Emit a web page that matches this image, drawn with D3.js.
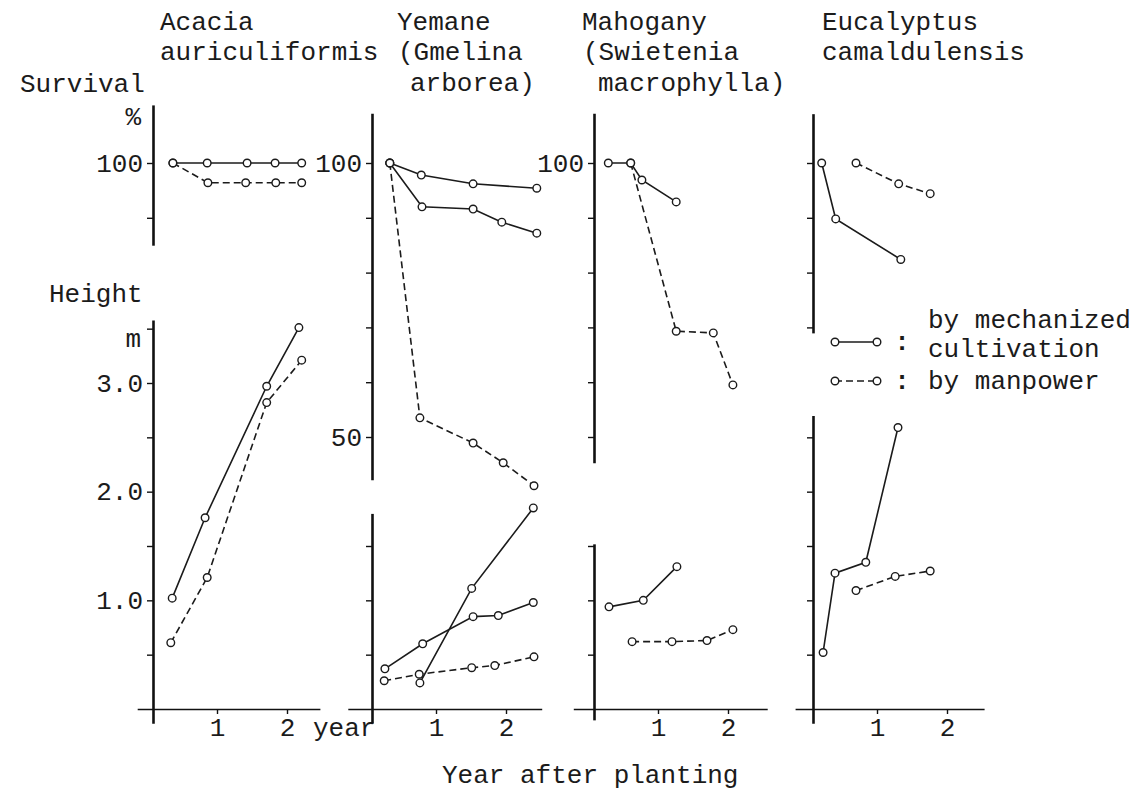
<!DOCTYPE html>
<html>
<head>
<meta charset="utf-8">
<script src="https://cdn.jsdelivr.net/npm/d3@7"></script>
<style>
  body { margin: 0; background: #fff; }
  text { font-family: "Liberation Mono", "DejaVu Sans Mono", monospace; fill: #1b1b1b; }
</style>
</head>
<body>
<script>
// survival (%) and height (m) after planting
// each point = [years after planting, value]

// Acacia auriculiformis
var acaciaSurvMech = [[0.37,100],[0.86,100],[1.43,100],[1.83,100],[2.21,100]];
var acaciaSurvMan  = [[0.37,100],[0.87,96.4],[1.41,96.4],[1.84,96.4],[2.21,96.4]];
var acaciaHtMech   = [[0.36,1.02],[0.83,1.76],[1.71,2.97],[2.17,3.51]];
var acaciaHtMan    = [[0.34,0.61],[0.86,1.21],[1.71,2.82],[2.21,3.21]];

// Yemane (Gmelina arborea)
var yemaneSurvMech1 = [[0.34,100],[0.79,97.8],[1.53,96.2],[2.44,95.4]];
var yemaneSurvMech2 = [[0.34,100],[0.80,92.0],[1.53,91.6],[1.94,89.2],[2.44,87.2]];
var yemaneSurvMan   = [[0.34,100],[0.77,53.5],[1.53,48.9],[1.96,45.3],[2.40,41.1]];
var yemaneHtMech1   = [[0.77,0.24],[1.51,1.11],[2.39,1.85]];
var yemaneHtMech2   = [[0.27,0.37],[0.81,0.60],[1.53,0.85],[1.89,0.86],[2.39,0.98]];
var yemaneHtMan     = [[0.26,0.26],[0.76,0.32],[1.51,0.38],[1.84,0.40],[2.40,0.48]];

// Mahogany (Swietenia macrophylla)
var mahoganySurvMech = [[0.29,100],[0.61,100],[0.77,96.9],[1.26,92.9]];
var mahoganySurvMan  = [[0.61,100],[1.26,69.3],[1.79,69.0],[2.07,59.5]];
var mahoganyHtMech   = [[0.30,0.94],[0.79,1.00],[1.27,1.31]];
var mahoganyHtMan    = [[0.63,0.62],[1.20,0.62],[1.70,0.63],[2.07,0.73]];

// Eucalyptus camaldulensis
var eucalyptusSurvMech = [[0.21,100],[0.41,89.8],[1.34,82.4]];
var eucalyptusSurvMan  = [[0.70,100],[1.31,96.2],[1.76,94.4]];
var eucalyptusHtMech   = [[0.23,0.52],[0.40,1.25],[0.84,1.35],[1.30,2.59]];
var eucalyptusHtMan    = [[0.70,1.09],[1.26,1.22],[1.76,1.27]];

var titles = [
  ['Acacia', 'auriculiformis'],
  ['Yemane', '(Gmelina', 'arborea)'],
  ['Mahogany', '(Swietenia', 'macrophylla)'],
  ['Eucalyptus', 'camaldulensis']
];
var legendLabels = [['by mechanized', 'cultivation'], ['by manpower']];
var xTickValues = [1, 2];

// layout
var W = 1138, H = 793;
var fs = 26;

var svg = d3.select('body').append('svg')
  .attr('width', W)
  .attr('height', H);

var ySurv = d3.scaleLinear().domain([50, 100]).range([437, 163]);
var yHt = d3.scaleLinear().domain([0, 3]).range([709, 383]);

var panels = [
  { axisX: 153, titleX: [160, 160], surv: [85, 110.6], survTicks: [90, 100], survLabels: [100],
    ht: [-0.13, 3.58], htTicks: [0.5, 1, 1.5, 2, 2.5, 3, 3.5], htLabels: [1, 2, 3], xExt: [-0.14, 2.47],
    series: [[acaciaSurvMech, 's', 'mech'], [acaciaSurvMan, 's', 'man'],
             [acaciaHtMech, 'h', 'mech'], [acaciaHtMan, 'h', 'man']] },
  { axisX: 372, titleX: [397, 398, 410], surv: [42.2, 109.1], survTicks: [50, 60, 70, 80, 90, 100], survLabels: [50, 100],
    ht: [-0.13, 1.8], htTicks: [0.5, 1, 1.5], htLabels: [], xExt: [-0.26, 2.51],
    series: [[yemaneSurvMech1, 's', 'mech'], [yemaneSurvMech2, 's', 'mech'], [yemaneSurvMan, 's', 'man'],
             [yemaneHtMech1, 'h', 'mech'], [yemaneHtMech2, 'h', 'mech'], [yemaneHtMan, 'h', 'man']] },
  { axisX: 594, titleX: [582, 583, 598], surv: [45.3, 109.1], survTicks: [50, 60, 70, 80, 90, 100], survLabels: [100],
    ht: [-0.1, 1.52], htTicks: [0.5, 1, 1.5], htLabels: [], xExt: [-0.21, 2.56],
    series: [[mahoganySurvMech, 's', 'mech'], [mahoganySurvMan, 's', 'man'],
             [mahoganyHtMech, 'h', 'mech'], [mahoganyHtMan, 'h', 'man']] },
  { axisX: 813, titleX: [822, 822], surv: [69, 109], survTicks: [70, 80, 90, 100], survLabels: [],
    ht: [-0.13, 2.7], htTicks: [0.5, 1, 1.5, 2, 2.5], htLabels: [], xExt: [-0.17, 2.53],
    series: [[eucalyptusSurvMech, 's', 'mech'], [eucalyptusSurvMan, 's', 'man'],
             [eucalyptusHtMech, 'h', 'mech'], [eucalyptusHtMan, 'h', 'man']] }
];

function styleLine(sel, kind) {
  sel.attr('fill', 'none')
    .attr('stroke', '#1b1b1b')
    .attr('stroke-width', 1.6)
    .attr('stroke-dasharray', kind === 'man' ? '7,4' : null);
}
function styleDot(sel) {
  sel.attr('r', 3.8).attr('fill', '#fff').attr('stroke', '#1b1b1b').attr('stroke-width', 1.4);
}
function styleAxis(g, w) {
  g.select('.domain').attr('stroke', '#111').attr('stroke-width', w);
  g.selectAll('.tick line').attr('stroke', '#111').attr('stroke-width', 1.4);
  g.selectAll('.tick text').attr('font-size', fs).attr('font-family', '"Liberation Mono", monospace').attr('fill', '#1b1b1b');
  g.attr('font-family', null).attr('font-size', null);
}

// titles
var titleY = [30, 60, 91];
panels.forEach(function(p, i) {
  titles[i].forEach(function(t, j) {
    svg.append('text').attr('x', p.titleX[j]).attr('y', titleY[j]).attr('font-size', fs).text(t);
  });
});

svg.append('text').attr('x', 20).attr('y', 92).attr('font-size', fs).text('Survival');
svg.append('text').attr('x', 141).attr('y', 125).attr('text-anchor', 'end').attr('font-size', fs).text('%');
svg.append('text').attr('x', 49).attr('y', 302).attr('font-size', fs).text('Height');
svg.append('text').attr('x', 141).attr('y', 347).attr('text-anchor', 'end').attr('font-size', fs).text('m');

panels.forEach(function(p, i) {
  var x = d3.scaleLinear().domain([0, 1]).range([p.axisX - 6, p.axisX + 64]);

  // baseline with year ticks
  var xSeg = d3.scaleLinear().domain(p.xExt).range(p.xExt.map(x));
  var gx = svg.append('g').attr('transform', 'translate(0,' + yHt(0) + ')')
    .call(d3.axisBottom(xSeg).tickValues(xTickValues).tickSize(5).tickSizeOuter(0).tickPadding(3.5)
      .tickFormat(d3.format('d')));
  styleAxis(gx, 1.5);

  // survival axis segment
  var sSeg = d3.scaleLinear().domain(p.surv).range(p.surv.map(ySurv));
  var gs = svg.append('g').attr('transform', 'translate(' + p.axisX + ',0)')
    .call(d3.axisLeft(sSeg).tickValues(p.survTicks).tickSize(6).tickSizeOuter(0).tickPadding(4)
      .tickFormat(function(d) { return p.survLabels.indexOf(d) >= 0 ? d : ''; }));
  styleAxis(gs, 2.6);

  // height axis segment
  var hSeg = d3.scaleLinear().domain(p.ht).range(p.ht.map(yHt));
  var gh = svg.append('g').attr('transform', 'translate(' + p.axisX + ',0)')
    .call(d3.axisLeft(hSeg).tickValues(p.htTicks).tickSize(6).tickSizeOuter(0).tickPadding(4)
      .tickFormat(function(d) { return p.htLabels.indexOf(d) >= 0 ? d3.format('.1f')(d) : ''; }));
  styleAxis(gh, 2.6);

  // lines then open circles
  p.series.forEach(function(s) {
    var y = s[1] === 's' ? ySurv : yHt;
    var line = d3.line().x(function(d) { return x(d[0]); }).y(function(d) { return y(d[1]); });
    svg.append('path').datum(s[0]).attr('d', line).call(styleLine, s[2]);
  });
  p.series.forEach(function(s) {
    var y = s[1] === 's' ? ySurv : yHt;
    svg.selectAll(null).data(s[0]).enter().append('circle')
      .attr('cx', function(d) { return x(d[0]); })
      .attr('cy', function(d) { return y(d[1]); })
      .call(styleDot);
  });

  if (i === 0) {
    svg.append('text').attr('x', 313).attr('y', 736).attr('font-size', fs).text('year');
  }
});

// legend
var legendRows = [{ kind: 'mech', y: 342, textY: [328, 357] }, { kind: 'man', y: 381, textY: [389] }];
legendRows.forEach(function(r, i) {
  svg.append('line').attr('x1', 835).attr('x2', 877).attr('y1', r.y).attr('y2', r.y).call(styleLine, r.kind);
  svg.selectAll(null).data([835, 877]).enter().append('circle')
    .attr('cx', function(d) { return d; }).attr('cy', r.y).call(styleDot);
  svg.append('text').attr('x', 902).attr('y', r.y + 8).attr('text-anchor', 'middle')
    .attr('font-size', fs).attr('font-weight', 'bold').text(':');
  legendLabels[i].forEach(function(t, j) {
    svg.append('text').attr('x', 928).attr('y', r.textY[j]).attr('font-size', fs).text(t);
  });
});

svg.append('text').attr('x', 442).attr('y', 783).attr('font-size', fs).text('Year after planting');
</script>
</body>
</html>
